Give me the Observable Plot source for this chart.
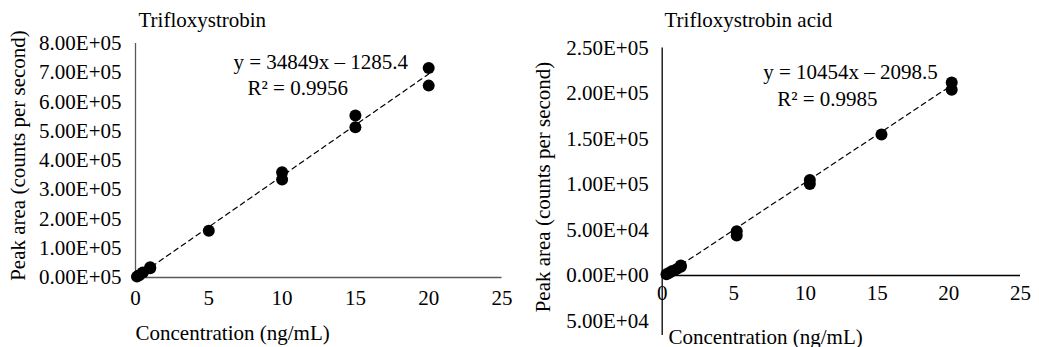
<!DOCTYPE html>
<html><head><meta charset="utf-8">
<script src="https://cdn.jsdelivr.net/npm/d3@7"></script>
<script src="https://cdn.jsdelivr.net/npm/@observablehq/plot@0.6"></script>
<style>
body{margin:0;background:#fff;}
#wrap{position:relative;width:1039px;height:347px;overflow:hidden;background:#fff;}
.panel{position:absolute;top:0;}
svg text{font-family:'Liberation Serif','Times New Roman',serif !important;}
</style></head><body><div id="wrap"></div>
<script>
// ---- Data ----
const titleLeft = "Trifloxystrobin";
const concLeft = [0.1, 0.25, 0.5, 1, 1, 5, 10, 10, 15, 15, 20, 20];
const areaLeft = [3000, 8000, 17000, 32000, 35000, 160000, 360000, 335000, 554000, 514000, 716000, 656000];
const slopeLeft = 34849, interceptLeft = -1285.4;
const eqLeft = "y = 34849x – 1285.4";
const r2Left = "R² = 0.9956";
const yTicksLeft = [0, 100000, 200000, 300000, 400000, 500000, 600000, 700000, 800000];
const yTickLabelsLeft = ["0.00E+05","1.00E+05","2.00E+05","3.00E+05","4.00E+05","5.00E+05","6.00E+05","7.00E+05","8.00E+05"];

const titleRight = "Trifloxystrobin acid";
const concRight = [0.3, 0.5, 0.7, 1.0, 1.3, 1.3, 5.2, 5.2, 10.3, 10.3, 15.3, 20.2, 20.2];
const areaRight = [1500, 3000, 5000, 7000, 9500, 11000, 48500, 44000, 105000, 100500, 155000, 212000, 204000];
const slopeRight = 10454, interceptRight = -2098.5;
const eqRight = "y = 10454x – 2098.5";
const r2Right = "R² = 0.9985";
const yTicksRight = [-50000, 0, 50000, 100000, 150000, 200000, 250000];
const yTickLabelsRight = ["5.00E+04","0.00E+00","5.00E+04","1.00E+05","1.50E+05","2.00E+05","2.50E+05"];

const xTicks = [0, 5, 10, 15, 20, 25];
const xTickLabels = ["0", "5", "10", "15", "20", "25"];
const yLabel = "Peak area (counts per second)";
const xLabel = "Concentration (ng/mL)";

const FONT = "'Liberation Serif', 'Times New Roman', serif";
const FS = 21;

function panel(cfg) {
  const pts = cfg.conc.map((c, i) => ({x: c, y: cfg.area[i]}));
  const xmin = d3.min(cfg.conc), xmax = d3.max(cfg.conc);
  const trend = [xmin, xmax].map(x => ({x, y: cfg.slope * x + cfg.intercept}));
  const yT = cfg.yTicks.map((t, i) => ({v: t, s: cfg.yTickLabels[i]}));
  const xT = xTicks.map((t, i) => ({v: t, s: xTickLabels[i]}));
  return Plot.plot({
    width: cfg.width, height: 347,
    marginLeft: cfg.mL, marginRight: cfg.mR, marginTop: cfg.mT, marginBottom: cfg.mB,
    style: {fontFamily: FONT, fontSize: FS + "px", background: "white", color: "black", overflow: "visible"},
    x: {domain: [0, 25], axis: null},
    y: {domain: cfg.yDomain, axis: null},
    marks: [
      // tick labels
      Plot.text(yT, {frameAnchor: "left", y: "v", text: "s", textAnchor: "end", lineAnchor: "middle", dx: -cfg.yPad, fontSize: FS, fill: "black"}),
      Plot.text(xT, {x: "v", y: () => 0, text: "s", textAnchor: "middle", lineAnchor: "middle", dy: cfg.xPad, fontSize: FS, fill: "black"}),
      // axis lines
      Plot.ruleX([0], {y1: cfg.axisY1, y2: cfg.axisY2, stroke: cfg.axisColor, strokeWidth: 1.3, clip: false}),
      Plot.ruleY([0], {x1: 0, x2: 25, stroke: cfg.axisColor, strokeWidth: 1.3}),
      // trendline and data
      Plot.line(trend, {x: "x", y: "y", stroke: "black", strokeWidth: 1.2, strokeDasharray: "5,4"}),
      Plot.dot(pts, {x: "x", y: "y", r: 6, fill: "black", stroke: "none"}),
      // annotations
      Plot.text([cfg.title], {frameAnchor: "top-left", textAnchor: "start", lineAnchor: "middle", dx: cfg.titleDx, dy: cfg.titleDy, fontSize: FS, fill: "black"}),
      Plot.text([cfg.eq], {frameAnchor: "top-left", textAnchor: "start", lineAnchor: "middle", dx: cfg.eqDx, dy: cfg.eqDy, fontSize: FS, fill: "black"}),
      Plot.text([cfg.r2], {frameAnchor: "top-left", textAnchor: "start", lineAnchor: "middle", dx: cfg.r2Dx, dy: cfg.r2Dy, fontSize: FS, fill: "black"}),
      Plot.text([xLabel], {frameAnchor: "bottom-left", textAnchor: "start", lineAnchor: "middle", dx: cfg.xlDx, dy: cfg.xlDy, fontSize: FS, fill: "black"}),
      Plot.text([yLabel], {frameAnchor: "left", textAnchor: "middle", lineAnchor: "middle", rotate: -90, dx: cfg.ylDx, dy: cfg.ylDy, fontSize: FS, fill: "black"})
    ]
  });
}

const left = panel({
  width: 520, mL: 135, mR: 18.5, mT: 43, mB: 70,
  conc: concLeft, area: areaLeft, slope: slopeLeft, intercept: interceptLeft,
  yDomain: [0, 800000], yTicks: yTicksLeft, yTickLabels: yTickLabelsLeft,
  yPad: 14, xPad: 21, axisColor: "#595959", axisY1: 0, axisY2: 800000,
  title: titleLeft, titleDx: 3, titleDy: -23,
  eq: eqLeft, eqDx: 98, eqDy: 19, r2: r2Left, r2Dx: 112, r2Dy: 45,
  xlDx: 0, xlDy: 56, ylDx: -117, ylDy: -5
});
const right = panel({
  width: 519, mL: 141.7, mR: 19, mT: 47.5, mB: 26.5,
  conc: concRight, area: areaRight, slope: slopeRight, intercept: interceptRight,
  yDomain: [-50000, 250000], yTicks: yTicksRight, yTickLabels: yTickLabelsRight,
  yPad: 13.5, xPad: 18, axisColor: "black", axisY1: -66000, axisY2: 250000,
  title: titleRight, titleDx: 2.3, titleDy: -27.5,
  eq: eqRight, eqDx: 101, eqDy: 24.2, r2: r2Right, r2Dx: 115, r2Dy: 50.8,
  xlDx: 6.3, xlDy: 16.5, ylDx: -118.7, ylDy: 2.5
});
left.classList.add("panel"); left.style.left = "0px";
right.classList.add("panel"); right.style.left = "520px";
const wrap = document.getElementById("wrap");
wrap.appendChild(left); wrap.appendChild(right);
</script>
</body></html>
